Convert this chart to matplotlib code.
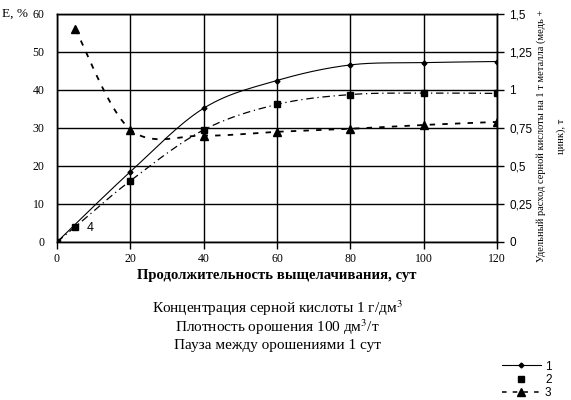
import numpy as np
import matplotlib
matplotlib.use("Agg")
import matplotlib.pyplot as plt
from matplotlib.lines import Line2D

plt.rcParams['font.family'] = ['Liberation Serif', 'DejaVu Serif']
plt.rcParams['mathtext.fontset'] = 'stix'

# ---- data ----
x1 = [0, 20, 40, 60, 80, 100, 120]
y1 = [0, 18.5, 35.2, 42.5, 46.6, 47.2, 47.5]          # E, %
x2 = [0, 5, 20, 40, 60, 80, 100, 120]
y2 = [0, 4, 16.1, 29.5, 36.2, 38.8, 39.2, 39.1]       # E, %
x3 = [5, 20, 40, 60, 80, 100, 120]
y3 = [1.40, 0.74, 0.70, 0.725, 0.745, 0.77, 0.79]     # t
xticks = [0, 20, 40, 60, 80, 100, 120]
yticks_left = [0, 10, 20, 30, 40, 50, 60]
yticks_right = [0, 0.25, 0.5, 0.75, 1.0, 1.25, 1.5]
yticklabels_right = ['0', '0,25', '0,5', '0,75', '1', '1,25', '1,5']
labels = ['1', '2', '3']


def smooth(xs, ys, n=30):
    """Excel-style smoothed line (Catmull-Rom Bezier) through the points."""
    P = np.column_stack([xs, ys]).astype(float)
    out = [P[0]]
    for i in range(len(P) - 1):
        p0 = P[i - 1] if i > 0 else P[i]
        p1 = P[i]
        p2 = P[i + 1]
        p3 = P[i + 2] if i + 2 < len(P) else P[i + 1]
        c1 = p1 + (p2 - p0) / 6
        c2 = p2 - (p3 - p1) / 6
        t = np.linspace(0, 1, n)[1:, None]
        seg = ((1 - t) ** 3) * p1 + 3 * ((1 - t) ** 2) * t * c1 + 3 * (1 - t) * t ** 2 * c2 + t ** 3 * p2
        out.extend(seg)
    out = np.array(out)
    return out[:, 0], out[:, 1]


fig = plt.figure(figsize=(5.71, 4.0), dpi=100)
ax = fig.add_axes([57 / 571, 1 - 242 / 400, 440 / 571, 228 / 400])
ax2 = ax.twinx()

ax.set_xlim(0, 120)
ax.set_ylim(0, 60)
ax2.set_ylim(0, 1.5)
ax.set_xticks(xticks)
ax.set_yticks(yticks_left)
ax2.set_yticks(yticks_right)
ax2.set_yticklabels(yticklabels_right, family='Liberation Sans', fontsize=8.5)
ax.tick_params(axis='x', direction='out', length=5, width=1, labelsize=8.5, pad=3)
ax.tick_params(axis='y', length=0, labelsize=8.5, pad=9)
ax2.tick_params(axis='y', direction='out', length=5, width=1, pad=4)
ax.grid(True, color='black', linewidth=1)
for a in (ax, ax2):
    for s in a.spines.values():
        s.set_linewidth(1)
        s.set_color('black')

# series 1
sx, sy = smooth(x1, y1)
ax.plot(sx, sy, color='black', lw=0.8)
ax.plot(x1, y1, ls='none', marker='D', ms=2.5, color='black')
# series 2
sx, sy = smooth(x2, y2)
ax.plot(sx, sy, color='black', lw=0.9, dashes=(6, 3, 1, 3))
ax.plot(x2, y2, ls='none', marker='s', ms=5, color='black')
ax.annotate('4', (x2[1], y2[1]), xytext=(8, -1), textcoords='offset points',
            fontsize=9, va='center', family='Liberation Sans')
# series 3 (right axis)
sx, sy = smooth(x3, y3)
ax2.plot(sx, sy, color='black', lw=1.3, dashes=(3, 4))
ax2.plot(x3, y3, ls='none', marker='^', ms=6, color='black')

fig.text(2 / 571, 1 - 14 / 400, 'E, %', fontsize=9.5, va='center', ha='left')
fig.text(551 / 571, 1 - 136 / 400,
         'Удельный расход серной кислоты на 1 т металла (медь +\nцинк), т',
         rotation=90, fontsize=7.5, ha='center', va='center', multialignment='center',
         linespacing=2.4)

fig.text(277 / 571, 1 - 276 / 400, 'Продолжительность выщелачивания, сут',
         fontsize=10.6, ha='center', va='center', fontweight='bold')
fig.text(277 / 571, 1 - 308 / 400, 'Концентрация серной кислоты 1 г/дм$^{3}$',
         fontsize=11, ha='center', va='center')
fig.text(277 / 571, 1 - 327 / 400, 'Плотность орошения 100 дм$^{3}$/т',
         fontsize=11, ha='center', va='center')
fig.text(277 / 571, 1 - 345 / 400, 'Пауза между орошениями 1 сут',
         fontsize=11, ha='center', va='center')

handles = [
    Line2D([], [], color='black', lw=0.8, marker='D', ms=2.5),
    Line2D([], [], ls='none', marker='s', ms=5, color='black'),
    Line2D([], [], color='black', lw=1.1, dashes=(3, 4), marker='^', ms=6),
]
fig.legend(handles, labels, loc='center left', bbox_to_anchor=(496 / 571, 1 - 380 / 400),
           frameon=False, handlelength=3.3, labelspacing=0.12,
           handletextpad=0.35, borderpad=0, prop={'family': 'Liberation Sans', 'size': 8.5})

fig.savefig('out.png', dpi=100)
